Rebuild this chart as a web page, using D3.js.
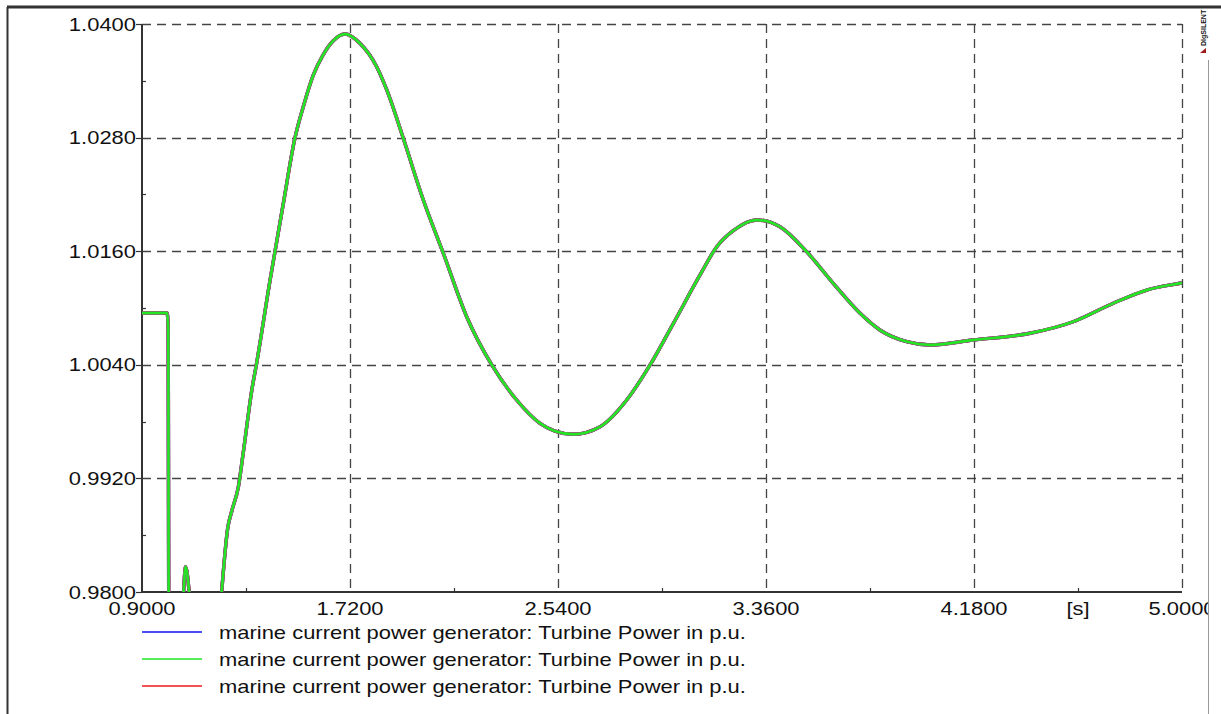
<!DOCTYPE html>
<html>
<head>
<meta charset="utf-8">
<script src="https://cdn.jsdelivr.net/npm/d3@7"></script>
<style>
  body { margin: 0; background: #fff; }
  svg text { font-family: "Liberation Sans", Arial, sans-serif; fill: #111; }
</style>
</head>
<body>
<div id="chart"></div>
<script>
// time axis [s] and turbine power [p.u.]
let xTicks = [0.9, 1.72, 2.54, 3.36, 4.18, 5.0];
let yTicks = [0.98, 0.992, 1.004, 1.016, 1.028, 1.04];
let xMinor = [1.31, 2.13, 2.95, 3.77, 4.59];
let yMinor = [0.986, 0.998, 1.010, 1.022, 1.034];

// values (below 0.98 gets clipped)
let time = [0.90, 0.999, 1.003, 1.006, 1.055, 1.062, 1.072, 1.089, 1.10, 1.20, 1.214,
  1.238, 1.255, 1.280, 1.299, 1.333, 1.352, 1.405, 1.457, 1.503, 1.539, 1.574, 1.614,
  1.653, 1.700, 1.759, 1.825, 1.865, 1.930, 2.009, 2.088, 2.180, 2.279, 2.377, 2.469,
  2.528, 2.600, 2.706, 2.811, 2.903, 2.995, 3.100, 3.166, 3.231, 3.323, 3.415, 3.520, 3.625,
  3.731, 3.809, 3.915, 4.007, 4.177, 4.401, 4.571, 4.729, 4.861, 4.992, 5.0];
let power = [1.00947, 1.00947, 1.0080, 0.9750, 0.9750, 0.9790, 0.98267, 0.9790, 0.9750, 0.9750, 0.9800,
  0.98676, 0.98866, 0.99112, 0.99468, 1.00134, 1.00419, 1.01296, 1.02102, 1.02796, 1.03155, 1.03451, 1.03673,
  1.03820, 1.03894, 1.03796, 1.03549, 1.03303, 1.02793, 1.02141, 1.01578, 1.00908, 1.00398, 1.00028, 0.99782,
  0.99700, 0.99666, 0.99746, 1.00028, 1.00398, 1.00838, 1.01349, 1.01648, 1.01817, 1.01930, 1.01859, 1.01595, 1.01261,
  1.00944, 1.00768, 1.00644, 1.00609, 1.00662, 1.00733, 1.00855, 1.01050, 1.01190, 1.01261, 1.01265];

let seriesNames = ["marine current power generator: Turbine Power in p.u.",
                   "marine current power generator: Turbine Power in p.u.",
                   "marine current power generator: Turbine Power in p.u."];
let seriesColors = ["#1010f0", "#22e622", "#f01818"];

let width = 1221, height = 714;
let pLeft = 142, pRight = 1182, pTop = 24, pBottom = 592;
let stretch = 1.22; // text in the picture is a bit wide

let svg = d3.select("#chart").append("svg")
  .attr("width", width)
  .attr("height", height);

let x = d3.scaleLinear().domain([0.9, 5.0]).range([pLeft, pRight]);
let y = d3.scaleLinear().domain([0.98, 1.04]).range([pBottom, pTop]);

let defs = svg.append("defs");
defs.append("clipPath").attr("id", "plotclip")
  .append("rect").attr("x", pLeft).attr("y", pTop)
  .attr("width", pRight - pLeft).attr("height", pBottom - pTop);
defs.append("clipPath").attr("id", "pageclip")
  .append("rect").attr("x", 0).attr("y", 0).attr("width", 1208).attr("height", height);

let page = svg.append("g").attr("clip-path", "url(#pageclip)");

// outer frame
svg.append("line").attr("x1", 7).attr("x2", width).attr("y1", 7).attr("y2", 7)
  .attr("stroke", "#333").attr("stroke-width", 3);
page.append("line").attr("x1", 7.5).attr("x2", 7.5).attr("y1", 7).attr("y2", height)
  .attr("stroke", "#333").attr("stroke-width", 2);
svg.append("line").attr("x1", 1208.5).attr("x2", 1208.5).attr("y1", 60).attr("y2", height)
  .attr("stroke", "#999").attr("stroke-width", 1);

// dashed grid
let grid = page.append("g").attr("stroke", "#444").attr("stroke-width", 1.3)
  .attr("stroke-dasharray", "9,6").attr("fill", "none");
grid.selectAll(".vg").data(xTicks.slice(1)).enter().append("line")
  .attr("x1", d => Math.round(x(d)) + 0.5).attr("x2", d => Math.round(x(d)) + 0.5)
  .attr("y1", pTop).attr("y2", pBottom);
grid.selectAll(".hg").data(yTicks.slice(1)).enter().append("line")
  .attr("x1", pLeft).attr("x2", pRight)
  .attr("y1", d => Math.round(y(d)) + 0.5).attr("y2", d => Math.round(y(d)) + 0.5);

// left and bottom axis lines
page.append("line").attr("x1", pLeft).attr("x2", pLeft).attr("y1", pTop).attr("y2", pBottom)
  .attr("stroke", "#333").attr("stroke-width", 2);
page.append("line").attr("x1", pLeft).attr("x2", pRight).attr("y1", pBottom).attr("y2", pBottom)
  .attr("stroke", "#333").attr("stroke-width", 2);

// ticks
let ticks = page.append("g").attr("stroke", "#333").attr("stroke-width", 1.2);
ticks.selectAll(".ym").data(yTicks).enter().append("line")
  .attr("x1", pLeft - 6).attr("x2", pLeft)
  .attr("y1", d => Math.round(y(d)) + 0.5).attr("y2", d => Math.round(y(d)) + 0.5);
ticks.selectAll(".yn").data(yMinor).enter().append("line")
  .attr("x1", pLeft).attr("x2", pLeft + 4)
  .attr("y1", d => Math.round(y(d)) + 0.5).attr("y2", d => Math.round(y(d)) + 0.5);
ticks.selectAll(".xn").data(xMinor).enter().append("line")
  .attr("x1", d => Math.round(x(d)) + 0.5).attr("x2", d => Math.round(x(d)) + 0.5)
  .attr("y1", pBottom - 4).attr("y2", pBottom);

// tick labels
page.selectAll(".ylab").data(yTicks).enter().append("text")
  .attr("transform", d => `translate(${pLeft - 6},${y(d) + 6.5}) scale(${stretch},1)`)
  .attr("text-anchor", "end")
  .style("font-size", "18px")
  .text(d => d.toFixed(4));
page.selectAll(".xlab").data(xTicks).enter().append("text")
  .attr("transform", d => `translate(${x(d)},${615}) scale(${stretch},1)`)
  .attr("text-anchor", "middle")
  .style("font-size", "18px")
  .text(d => d.toFixed(4));
page.append("text")
  .attr("transform", `translate(${x(4.59)},${615}) scale(${stretch},1)`)
  .attr("text-anchor", "middle")
  .style("font-size", "18px")
  .text("[s]");

// curves: all three series are the same, green ends up on top
let line = d3.line()
  .x((d, i) => x(time[i]))
  .y(d => y(d))
  .curve(d3.curveMonotoneX);

let curves = page.append("g").attr("clip-path", "url(#plotclip)");
[0, 2, 1].forEach(k => {
  curves.append("path")
    .datum(power)
    .attr("d", line)
    .attr("fill", "none")
    .attr("stroke", k == 1 ? "#7a7a7a" : seriesColors[k])
    .attr("stroke-width", 3.4)
    .attr("stroke-linejoin", "round");
});
curves.append("path")
  .datum(power)
  .attr("d", line)
  .attr("fill", "none")
  .attr("stroke", seriesColors[1])
  .attr("stroke-width", 2.4)
  .attr("stroke-linejoin", "round");

// legend
let legend = page.append("g");
seriesNames.forEach((name, i) => {
  let ly = 632 + i * 27;
  legend.append("line")
    .attr("x1", pLeft).attr("x2", 202).attr("y1", ly).attr("y2", ly)
    .attr("stroke", seriesColors[i]).attr("stroke-width", 1.5);
  legend.append("text")
    .attr("transform", `translate(219,${ly + 6.5}) scale(${stretch},1)`)
    .style("font-size", "18px")
    .text(name);
});

// DIgSILENT mark
svg.append("text")
  .attr("transform", "translate(1206,46) rotate(-90)")
  .style("font-size", "7px")
  .style("font-weight", "bold")
  .text("DIgSILENT");
svg.append("path")
  .attr("d", "M1206,48 L1206,53 L1200,53 Z")
  .attr("fill", "#a01818");
</script>
</body>
</html>
